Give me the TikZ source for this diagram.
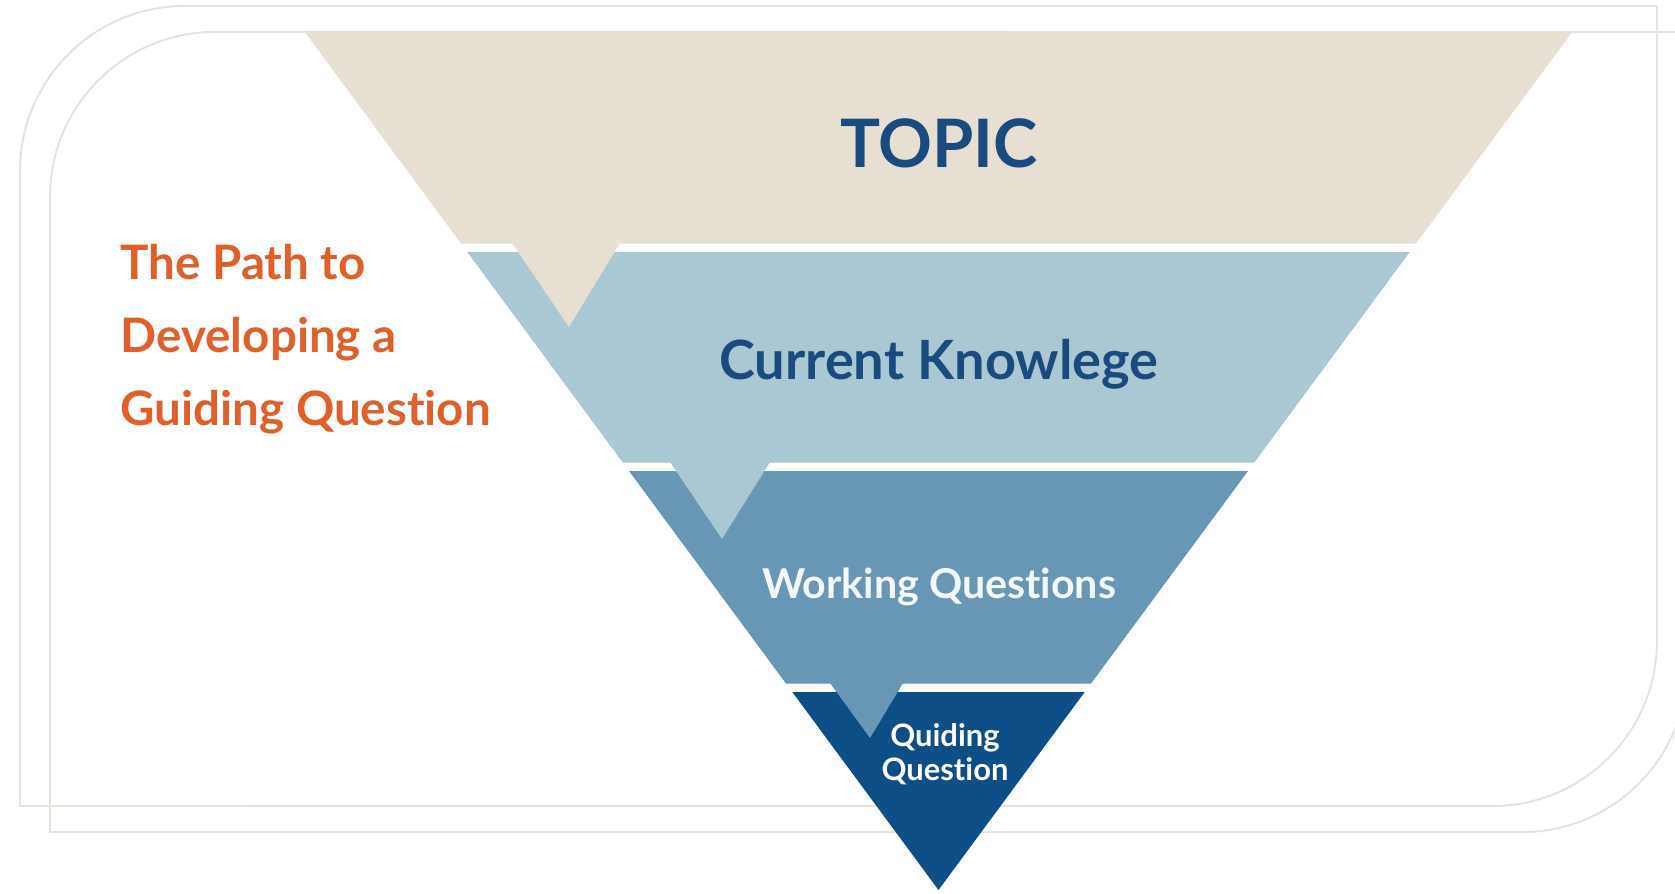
\documentclass[tikz,border=0pt]{standalone}
\usepackage{fontspec}
\setmainfont{Lato}[Ligatures=NoCommon]
\usetikzlibrary{positioning}

\definecolor{topicbeige}{HTML}{E7DFD2}
\definecolor{knowblue}{HTML}{AAC8D3}
\definecolor{workblue}{HTML}{6896B5}
\definecolor{guideblue}{HTML}{0E4E87}
\definecolor{titleblue}{HTML}{1A4B7E}
\definecolor{pathorange}{HTML}{E0602C}
\definecolor{framegray}{HTML}{E6E2DA}

\tikzset{
  frameline/.style={draw=framegray, line width=0.55pt},
  bandlabel/.style={inner sep=0pt, anchor=base},
  pathlabel/.style={inner sep=0pt, anchor=base west, text=pathorange,
    font=\bfseries\fontsize{13.5}{16}\selectfont},
}

% one band of the funnel: top y, bottom y, colour
\newcommand{\funnelband}[3]{%
  \pgfmathsetmacro{\hwtop}{(890-#1)*0.7386}%
  \pgfmathsetmacro{\hwbot}{(890-#2)*0.7386}%
  \fill[#3] (938.5-\hwtop,#1) -- (938.5+\hwtop,#1)
    -- (938.5+\hwbot,#2) -- (938.5-\hwbot,#2) -- cycle;}

\begin{document}
\begin{tikzpicture}[x=0.01cm,y=-0.01cm]
  \useasboundingbox (0,0) rectangle (1675,893);
  \clip (0,0) rectangle (1675,893);
  \fill[white] (0,0) rectangle (1675,893);

  % Draw frames
  \foreach \dx/\dy in {0/0,30/26}
    \draw[frameline,shift={(\dx,\dy)}] (20,806) -- (20,171)
      arc[start angle=180,end angle=90,radius=1.65cm] -- (1657,6) -- (1657,641)
      arc[start angle=0,end angle=-90,radius=1.65cm] -- cycle;

  % Draw funnel
  \funnelband{31}{243.5}{topicbeige}
  \funnelband{252}{462.5}{knowblue}
  \funnelband{471}{683.5}{workblue}
  \fill[guideblue] (792.3,692) -- (1084.7,692) -- (938.5,890) -- cycle;
  \fill[topicbeige] (512,243) -- (620,243) -- (569,327) -- cycle;
  \fill[knowblue] (670,462) -- (770,462) -- (722,539) -- cycle;
  \fill[workblue] (830,683) -- (903,683) -- (870,738) -- cycle;

  % Labels
  \node (topic) [bandlabel, text=titleblue,
    font=\bfseries\fontsize{19}{22}\selectfont] at (939,167) {TOPIC};
  \node (knowledge) [bandlabel, text=titleblue,
    font=\bfseries\fontsize{15.4}{18}\selectfont] at (939,379) {Current Knowlege};
  \node (working) [bandlabel, text=white!92!workblue,
    font=\bfseries\fontsize{11.7}{14}\selectfont] at (939,598) {Working Questions};
  \node (guiding) [bandlabel, text=white,
    font=\bfseries\fontsize{8.8}{10}\selectfont] at (945,746) {Quiding};
  \node (question) [bandlabel, text=white,
    font=\bfseries\fontsize{8.8}{10}\selectfont] at (945,780) {Question};

  \foreach \txt [count=\i] in {The Path to, Developing a, Guiding Question}
    \node (path\i) [pathlabel] at (120,206+73*\i) {\txt};
\end{tikzpicture}
\end{document}
